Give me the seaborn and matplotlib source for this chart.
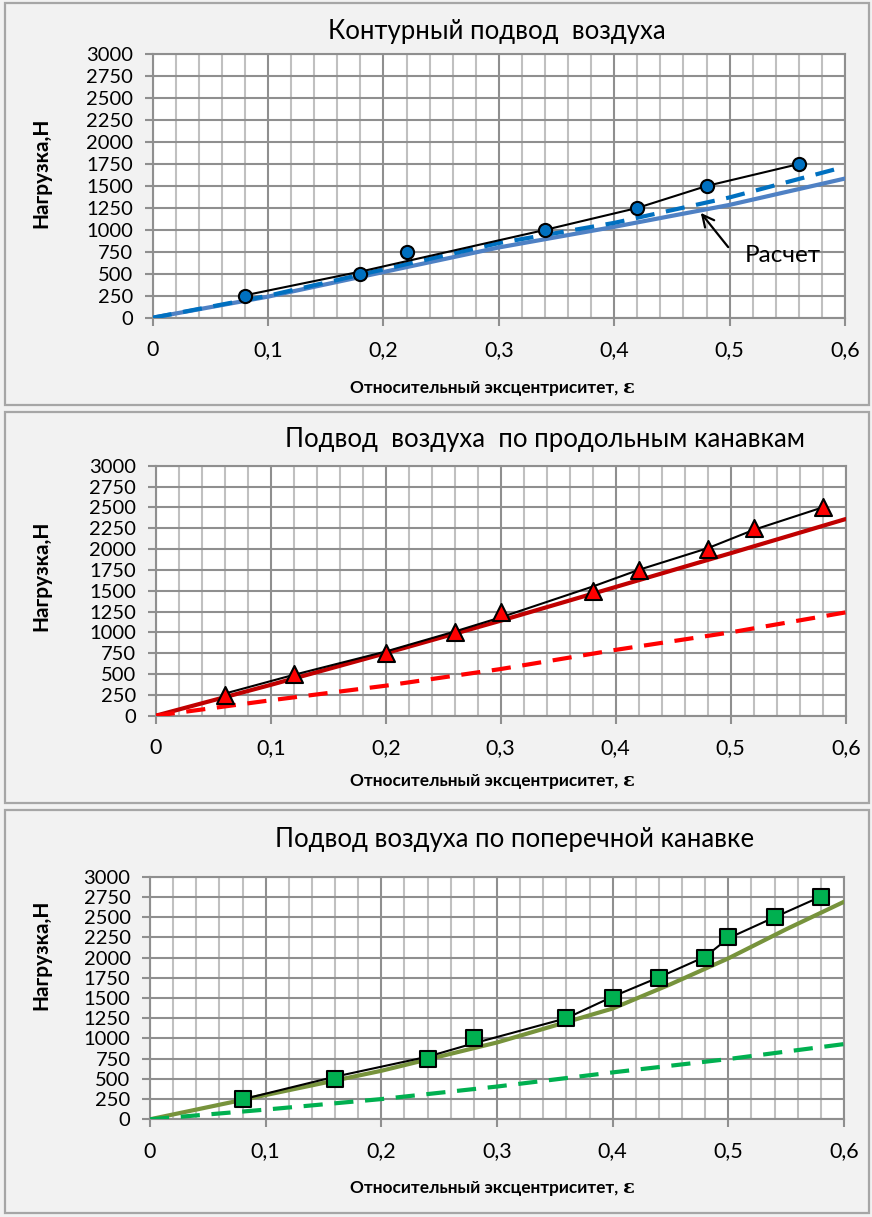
import matplotlib
matplotlib.use("Agg")
import matplotlib.pyplot as plt
import matplotlib.patches as mpatches
from matplotlib.ticker import MultipleLocator, FuncFormatter
import numpy as np
import pandas as pd
import seaborn as sns

# ---------------- data ----------------
# Panel 1: contour air supply
exp1_x = [0.08, 0.18, 0.22, 0.34, 0.42, 0.48, 0.56]
exp1_y = [250, 500, 750, 1000, 1250, 1500, 1750]
trend1_x = [0.08, 0.18, 0.34, 0.42, 0.48, 0.56]
trend1_y = [255, 525, 1000, 1250, 1500, 1750]
calc1_x = [0.0, 0.1, 0.2, 0.3, 0.4, 0.5, 0.6]
calc1_solid = [0, 240, 520, 800, 1035, 1285, 1585]
calc1_dash = [0, 250, 550, 850, 1080, 1370, 1720]

# Panel 2: longitudinal grooves
exp2_x = [0.06, 0.12, 0.20, 0.26, 0.30, 0.38, 0.42, 0.48, 0.52, 0.58]
exp2_y = [250, 500, 750, 1000, 1250, 1500, 1750, 2000, 2250, 2500]
trend2_y = [265, 490, 770, 1010, 1180, 1550, 1750, 2010, 2230, 2500]
calc2_x = [0.0, 0.1, 0.2, 0.3, 0.4, 0.5, 0.6]
calc2_solid = [0, 370, 750, 1140, 1545, 1950, 2360]
calc2_dash = [0, 185, 360, 560, 790, 1000, 1240]

# Panel 3: transverse groove
exp3_x = [0.08, 0.16, 0.24, 0.28, 0.36, 0.40, 0.44, 0.48, 0.50, 0.54, 0.58]
exp3_y = [250, 500, 750, 1000, 1250, 1500, 1750, 2000, 2250, 2500, 2750]
trend3_y = [247, 527, 774, 940, 1250, 1517, 1756, 2011, 2239, 2499, 2754]
calc3_x = [0.0, 0.1, 0.2, 0.3, 0.4, 0.45, 0.5, 0.55, 0.6]
calc3_solid = [0, 300, 600, 950, 1370, 1670, 1990, 2350, 2690]
calc3_dash_x = [0.0, 0.1, 0.2, 0.3, 0.4, 0.5, 0.6]
calc3_dash = [0, 120, 250, 405, 580, 745, 930]

titles = ["Контурный подвод  воздуха",
          "Подвод  воздуха  по продольным канавкам",
          "Подвод воздуха по поперечной канавке"]
xlabel = "Относительный эксцентриситет, "
ylabel = "Нагрузка,Н"

# ---------------- style ----------------
sns.set_theme(style="white")
FONT = ["Lato", "Noto Sans", "DejaVu Sans"]
plt.rcParams["font.family"] = FONT

W, H = 872, 1217
fig = plt.figure(figsize=(W / 100, H / 100), dpi=100, facecolor="#f2f2f2")


def fx(px):
    return px / W


def fy(py):
    return 1 - py / H


def add_panel_box(top, bottom):
    rect = mpatches.Rectangle((fx(5), fy(bottom)), fx(869) - fx(5), fy(top) - fy(bottom),
                              transform=fig.transFigure, fill=False,
                              edgecolor="#a6a6a6", lw=1.6, zorder=0)
    fig.patches.append(rect)


def make_axes(left, right, top, bottom):
    ax = fig.add_axes([fx(left), fy(bottom), fx(right) - fx(left), fy(top) - fy(bottom)])
    ax.set_facecolor("white")
    ax.set_xlim(0, 0.6)
    ax.set_ylim(0, 3000)
    ax.xaxis.set_major_locator(MultipleLocator(0.1))
    ax.xaxis.set_minor_locator(MultipleLocator(0.02))
    ax.yaxis.set_major_locator(MultipleLocator(250))
    ax.xaxis.set_major_formatter(FuncFormatter(
        lambda v, p: "0" if abs(v) < 1e-9 else f"{v:.1f}".replace(".", ",")))
    ax.yaxis.set_major_formatter(FuncFormatter(lambda v, p: f"{int(round(v))}"))
    ax.grid(which="minor", axis="x", color="#c0c0c0", lw=1.5, zorder=0)
    ax.grid(which="major", axis="both", color="#8f8f8f", lw=1.5, zorder=0)
    ax.set_axisbelow(True)
    for s in ax.spines.values():
        s.set_color("#8f8f8f")
        s.set_linewidth(1.5)
    ax.tick_params(axis="y", which="major", direction="out", length=6, width=1.5,
                   color="#8f8f8f", pad=8, labelsize=14.5, labelcolor="black", left=True)
    ax.tick_params(axis="x", which="major", direction="out", length=6, width=1.5,
                   color="#8f8f8f", pad=10, labelsize=15.5, labelcolor="black", bottom=True)
    ax.tick_params(which="minor", length=0)
    ax.set_xlabel("")
    ax.set_ylabel("")
    return ax


def draw_series(ax, cx, solid, dx, dash, solid_c, dash_c, ex, ey, tx, ty,
                marker, mfc, ms):
    sns.lineplot(x=cx, y=solid, ax=ax, color=solid_c, lw=3.0, zorder=3,
                 estimator=None, sort=False)
    sns.lineplot(x=dx, y=dash, ax=ax, color=dash_c, lw=3.0, zorder=3,
                 estimator=None, sort=False, linestyle=(0, (4.6, 2.8)))
    sns.lineplot(x=tx, y=ty, ax=ax, color="black", lw=1.5, zorder=4,
                 estimator=None, sort=False)
    sns.scatterplot(x=ex, y=ey, ax=ax, marker=marker, s=ms, color=mfc,
                    edgecolor="black", linewidth=1.5, zorder=5)
    ax.set_xlim(0, 0.6)
    ax.set_ylim(0, 3000)
    ax.set_xlabel("")
    ax.set_ylabel("")


def add_texts(title, title_xy, xlabel_y, ylabel_y):
    fig.text(fx(title_xy[0]), fy(title_xy[1]), title, ha="center", va="center",
             fontsize=18.5, color="black")
    fig.text(fx(622), fy(xlabel_y), xlabel, ha="right", va="center",
             fontsize=12.4, fontweight="bold", color="black")
    fig.text(fx(623), fy(xlabel_y), "ε", ha="left", va="center",
             fontsize=14, fontweight="bold", color="black",
             family=["DejaVu Serif"])
    fig.text(fx(41), fy(ylabel_y), ylabel, ha="center", va="center",
             rotation=90, fontsize=15, fontweight="bold", color="black")


# ---------------- panel 1 ----------------
add_panel_box(3, 405)
ax1 = make_axes(152.7, 845, 54.3, 317.7)
draw_series(ax1, calc1_x, calc1_solid, calc1_x, calc1_dash, "#4f81c4", "#0070c0",
            exp1_x, exp1_y, trend1_x, trend1_y, "o", "#0070c0", 90)
ax1.annotate("", xy=(0.4735, 1219), xytext=(0.5003, 779),
             arrowprops=dict(arrowstyle="->,head_length=0.7,head_width=0.35",
                             color="black", lw=1.6), zorder=6)
ax1.text(0.5134, 714, "Расчет", ha="left", va="center", fontsize=17.5, color="black", zorder=6)
add_texts(titles[0], (497, 32), 388, 173)

# ---------------- panel 2 ----------------
add_panel_box(412, 803)
ax2 = make_axes(155.7, 845.7, 465.7, 715.7)
draw_series(ax2, calc2_x, calc2_solid, calc2_x, calc2_dash, "#c00000", "#ff0000",
            exp2_x, exp2_y, exp2_x, trend2_y, "^", "#ff0000", 150)
add_texts(titles[1], (545, 440), 781, 576)

# ---------------- panel 3 ----------------
add_panel_box(810, 1213)
ax3 = make_axes(150, 844, 876.7, 1119.3)
draw_series(ax3, calc3_x, calc3_solid, calc3_dash_x, calc3_dash, "#77933c", "#00b050",
            exp3_x, exp3_y, exp3_x, trend3_y, "s", "#00b050", 120)
add_texts(titles[2], (515, 840), 1188, 955)

fig.savefig("out.png", dpi=100, facecolor=fig.get_facecolor())
